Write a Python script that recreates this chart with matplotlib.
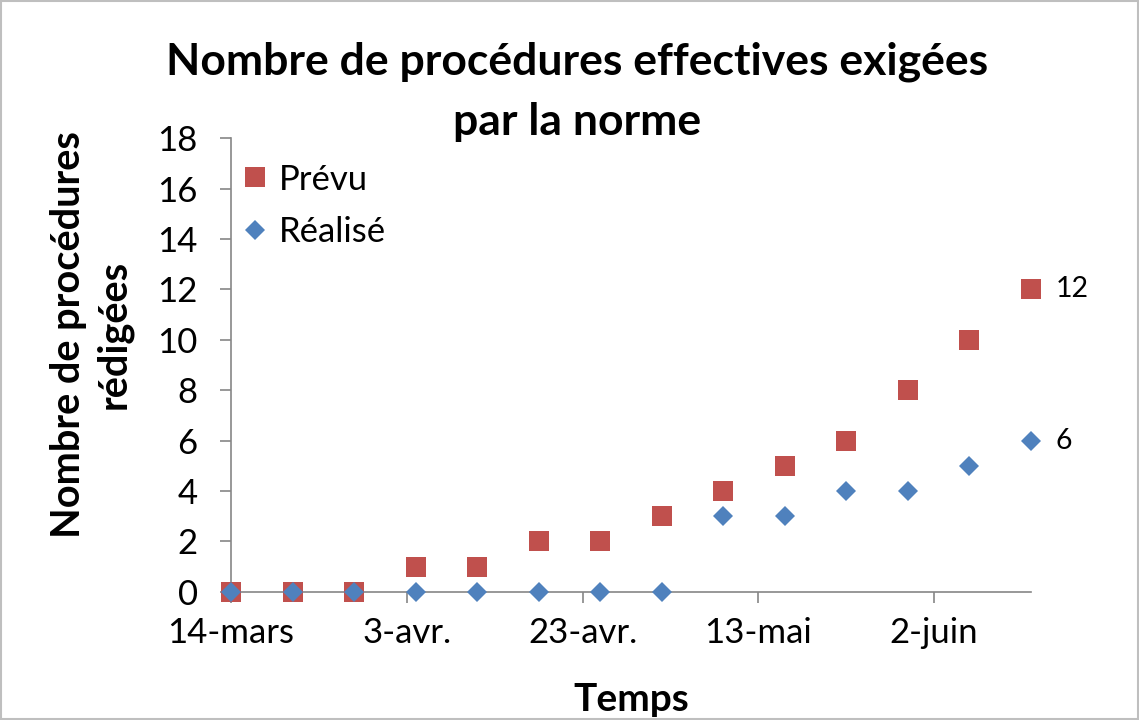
import matplotlib
matplotlib.use("Agg")
import matplotlib.pyplot as plt
import matplotlib.dates as mdates
import numpy as np
import datetime as dt
from matplotlib.patches import Rectangle

plt.rcParams['font.family'] = ['Lato', 'DejaVu Sans']

# Data
dates = [dt.date(2011, 3, 14) + dt.timedelta(days=7 * i) for i in range(14)]
prevu = [0, 0, 0, 1, 1, 2, 2, 3, 4, 5, 6, 8, 10, 12]
realise = [0, 0, 0, 0, 0, 0, 0, 0, 3, 3, 4, 4, 5, 6]
tick_dates = [dt.date(2011, 3, 14) + dt.timedelta(days=20 * i) for i in range(5)]
tick_labels = ['14-mars', '3-avr.', '23-avr.', '13-mai', '2-juin']
y_ticks = list(range(0, 19, 2))
title_lines = ['Nombre de procédures effectives exigées', 'par la norme']

red = '#C0504D'
blue = '#4F81BD'
grey = '#868686'

fig = plt.figure(figsize=(11.39, 7.2), dpi=100)
ax = fig.add_axes([0.2028, 0.1782, 0.7022, 0.6297])

ax.plot(dates, prevu, linestyle='none', marker='s', markersize=14.4,
        color=red, markeredgewidth=0, label='Prévu', zorder=3, clip_on=False)
ax.plot(dates, realise, linestyle='none', marker='D', markersize=10.2,
        color=blue, markeredgewidth=0, label='Réalisé', zorder=4, clip_on=False)

ax.annotate(str(prevu[-1]), (mdates.date2num(dates[-1]), prevu[-1]),
            xytext=(18, 0), textcoords='offset points', ha='left', va='center',
            fontsize=20.5)
ax.annotate(str(realise[-1]), (mdates.date2num(dates[-1]), realise[-1]),
            xytext=(18, 0), textcoords='offset points', ha='left', va='center',
            fontsize=20.5)

ax.set_xlim(mdates.date2num(dt.date(2011, 3, 14)), mdates.date2num(dt.date(2011, 6, 13)))
ax.set_ylim(0, 18)
ax.set_xticks([mdates.date2num(d) for d in tick_dates])
ax.set_xticklabels(tick_labels)
ax.set_yticks(y_ticks)

for s in ['top', 'right']:
    ax.spines[s].set_visible(False)
for s in ['left', 'bottom']:
    ax.spines[s].set_color(grey)
    ax.spines[s].set_linewidth(1.2)
ax.tick_params(axis='both', direction='out', length=8, width=1.2, color=grey,
               labelsize=25, labelcolor='black')
ax.tick_params(axis='y', pad=16)
ax.tick_params(axis='x', pad=10)
for lab in ax.get_xticklabels() + ax.get_yticklabels():
    lab.set_clip_on(False)

ax.set_xlabel('Temps', fontsize=28, fontweight='bold', labelpad=24)
fig.text(91.5 / 1139, 0.535, 'Nombre de procédures\nrédigées', rotation=90,
         ha='center', va='center', fontsize=28.6, fontweight='bold', linespacing=1.25)

fig.text(0.5066, 0.9139, title_lines[0], ha='center', va='center',
         fontsize=32, fontweight='bold')
fig.text(0.5066, 0.8306, title_lines[1], ha='center', va='center',
         fontsize=32, fontweight='bold')

leg = ax.legend(loc='upper left', bbox_to_anchor=(-0.009, 0.975), frameon=False,
                fontsize=25, handletextpad=0.2, labelspacing=0.6, handlelength=1.0,
                borderaxespad=0)

fig.patches.append(Rectangle((0.001, 0.001), 0.998, 0.998, transform=fig.transFigure,
                             fill=False, edgecolor='#bfbfbf', linewidth=1.5))

fig.savefig('out.png', dpi=100)
